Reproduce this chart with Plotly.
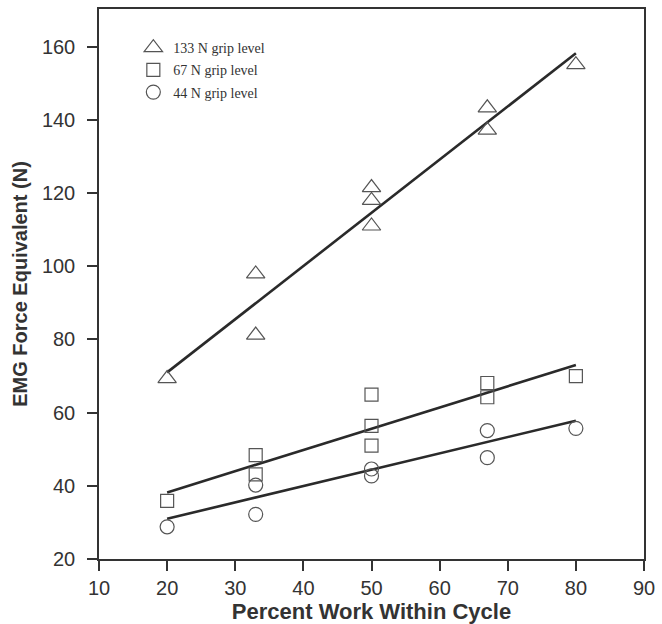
import plotly.graph_objects as go

# Data
x133 = [20, 33, 33, 50, 50, 50, 67, 67, 80]
y133 = [69.3, 97.9, 81.2, 121.5, 118.0, 111.0, 143.3, 137.2, 155.1]
x67 = [20, 33, 33, 50, 50, 50, 67, 67, 80]
y67 = [35.9, 48.4, 43.1, 64.9, 56.4, 51.0, 68.1, 64.2, 70.0]
x44 = [20, 33, 33, 50, 50, 67, 67, 80]
y44 = [28.8, 40.2, 32.2, 44.6, 42.7, 55.1, 47.7, 55.7]

fit_x = [20, 80]
fit133 = [71.0, 158.2]
fit67 = [38.2, 73.0]
fit44 = [31.0, 57.8]

names = ["133 N grip level", "67 N grip level", "44 N grip level"]
symbols = ["triangle-up-open", "square-open", "circle-open"]
sizes = [16, 13, 14]

mcol = "#555555"
lcol = "#2a2a2a"
tcol = "#333333"
sans = "Liberation Sans, Arial, sans-serif"

fig = go.Figure()
for fy in [fit133, fit67, fit44]:
    fig.add_trace(go.Scatter(x=fit_x, y=fy, mode="lines",
                             line=dict(color=lcol, width=2.6),
                             showlegend=False, hoverinfo="skip"))

for i, (xs, ys, nm, sym, sz) in enumerate(zip([x133, x67, x44], [y133, y67, y44],
                                               names, symbols, sizes)):
    fig.add_trace(go.Scatter(x=xs, y=ys, mode="markers", name=nm,
                             legendgroup="g%d" % i,
                             marker=dict(symbol=sym, size=sz, color=mcol,
                                         line=dict(width=1.2, color=mcol))))

axis_common = dict(showgrid=False, zeroline=False, showline=True,
                   linecolor=tcol, linewidth=1.5, mirror=True,
                   ticks="outside", ticklen=10, tickwidth=1.5, tickcolor=tcol,
                   tickfont=dict(family=sans, size=20, color=tcol))

fig.update_layout(
    width=662, height=624,
    margin=dict(l=99, r=15, t=7, b=65),
    paper_bgcolor="white", plot_bgcolor="white",
    xaxis=dict(range=[10, 90], tickvals=[10, 20, 30, 40, 50, 60, 70, 80, 90],
               ticklabelstandoff=0,
               title=dict(text="<b>Percent Work Within Cycle</b>", standoff=2,
                          font=dict(family=sans, size=22, color=tcol)),
               **axis_common),
    yaxis=dict(range=[20, 170.3], tickvals=[20, 40, 60, 80, 100, 120, 140, 160],
               ticklabelstandoff=8,
               title=dict(text="<b>EMG Force Equivalent (N)</b>", standoff=9,
                          font=dict(family=sans, size=20, color=tcol)),
               **axis_common),
    legend=dict(x=0.063, y=0.958, xanchor="left", yanchor="top",
                bgcolor="rgba(0,0,0,0)", traceorder="grouped",
                font=dict(family="Liberation Serif, Times New Roman, serif", size=14, color=tcol),
                itemwidth=30, tracegroupgap=1),
)

fig.write_html("out.html")
